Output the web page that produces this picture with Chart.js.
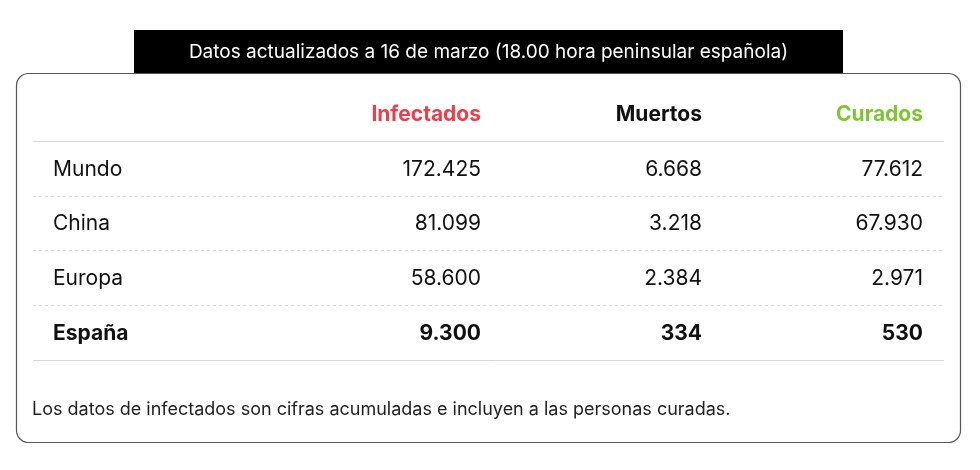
<!DOCTYPE html>
<html><head><meta charset="utf-8">
<script src="https://cdn.jsdelivr.net/npm/chart.js@4"></script>
<style>html,body{margin:0;padding:0;background:#fff}#w{width:980px;height:470px}</style>
</head><body><div id="w"><canvas id="c"></canvas></div>
<script>
const title = 'Datos actualizados a 16 de marzo (18.00 hora peninsular española)';
const columns = ['Infectados', 'Muertos', 'Curados'];
const columnColors = ['#ef3e4a', '#111111', '#7dc72e'];
const regions = ['Mundo', 'China', 'Europa', 'España'];
const infectados = ['172.425', '81.099', '58.600', '9.300'];
const muertos = ['6.668', '3.218', '2.384', '334'];
const curados = ['77.612', '67.930', '2.971', '530'];
const footnote = 'Los datos de infectados son cifras acumuladas e incluyen a las personas curadas.';
const rowKeys = ['header'].concat(regions);
const series = [infectados, muertos, curados];

const points = [];
series.forEach((vals, ci) => vals.forEach((v, ri) => points.push({x: ci + 1, y: regions[ri], t: v})));
columns.forEach((c, ci) => points.push({x: ci + 1, y: 'header', t: c}));

const FONT = 'Inter, "Liberation Sans", sans-serif';
const tablePlugin = {
  id: 'table',
  beforeDraw(chart) {
    const ctx = chart.ctx;
    ctx.save();
    ctx.fillStyle = '#fff'; ctx.fillRect(0, 0, chart.width, chart.height);
    ctx.strokeStyle = '#555'; ctx.lineWidth = 1.2;
    ctx.beginPath(); ctx.roundRect(16.5, 73.5, 944, 369, 12); ctx.stroke();
    ctx.fillStyle = '#000'; ctx.fillRect(134, 30, 709, 43);
    ctx.fillStyle = '#fff'; ctx.font = '19px ' + FONT; ctx.textAlign = 'center'; ctx.textBaseline = 'middle';
    ctx.fillText(title, 488.5, 52);
    const ys = chart.scales.y, xs = chart.scales.x;
    const x0 = 33, x1 = 944;
    for (let i = 0; i < rowKeys.length; i++) {
      const yb = Math.round((ys.getPixelForValue(i) + (i + 1 < rowKeys.length ? ys.getPixelForValue(i + 1) : 2 * ys.getPixelForValue(i) - ys.getPixelForValue(i - 1))) / 2) + 0.5;
      ctx.strokeStyle = '#d8d8d8'; ctx.lineWidth = 1;
      ctx.setLineDash(i === 0 || i === rowKeys.length - 1 ? [] : [3, 3]);
      ctx.beginPath(); ctx.moveTo(x0, yb); ctx.lineTo(x1, yb); ctx.stroke();
    }
    ctx.setLineDash([]);
    ctx.textAlign = 'left'; ctx.fillStyle = '#111';
    regions.forEach((r, ri) => {
      ctx.font = (ri === regions.length - 1 ? 'bold ' : '') + '21px ' + FONT;
      ctx.fillText(r, xs.getPixelForValue(-1) + 14, ys.getPixelForValue(ri + 1) + 1);
    });
    ctx.textAlign = 'right';
    chart.getDatasetMeta(0).data.forEach((el, i) => {
      const p = points[i];
      const isHeader = p.y === 'header';
      const bold = isHeader || p.y === regions[regions.length - 1];
      ctx.font = (bold ? 'bold ' : '') + '21px ' + FONT;
      ctx.fillStyle = isHeader ? columnColors[p.x - 1] : '#111';
      ctx.fillText(p.t, el.x, el.y + 1);
    });
    ctx.textAlign = 'left'; ctx.font = '18px ' + FONT; ctx.fillStyle = '#222';
    ctx.fillText(footnote, 32, 410);
    ctx.restore();
  }
};

new Chart(document.getElementById('c'), {
  type: 'scatter',
  data: { datasets: [{ data: points, pointRadius: 0, pointHoverRadius: 0 }] },
  options: {
    responsive: true, maintainAspectRatio: false, animation: false, events: [],
    layout: { padding: { left: 39, right: 57, top: 86.5, bottom: 110.5 } },
    plugins: { legend: { display: false }, tooltip: { enabled: false } },
    scales: {
      x: { type: 'linear', min: -1, max: 3, display: false },
      y: { type: 'category', labels: rowKeys, offset: true, display: false }
    }
  },
  plugins: [tablePlugin]
});
</script></body></html>
